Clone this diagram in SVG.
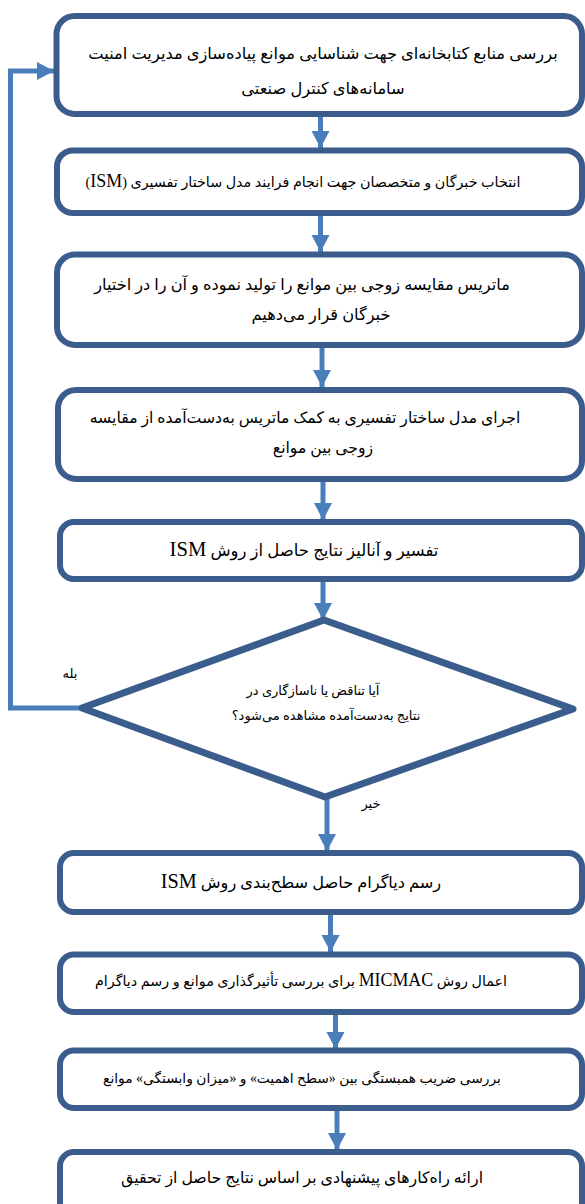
<svg xmlns="http://www.w3.org/2000/svg" width="585" height="1204" viewBox="0 0 585 1204">
<style>
.box{fill:#fff;stroke:#3b5d8d;stroke-width:6}
.dia{fill:#fff;stroke:#3b5d8d;stroke-width:7;stroke-linejoin:round}
.con{fill:none;stroke:#4a7ebb;stroke-width:5}
text{font-family:"Liberation Serif","DejaVu Sans",serif;fill:#000;text-anchor:middle;direction:rtl}
.lat{font-size:1.25em}
</style>
<defs>
<marker id="ah" markerUnits="userSpaceOnUse" markerWidth="18" markerHeight="20" viewBox="0 0 18 20" refX="17" refY="10" orient="auto">
<path d="M0,1 L17,10 L0,19 Z" fill="#4a7ebb"/>
</marker>
</defs>
<rect width="585" height="1204" fill="#fff"/>
<g id="connectors">
<path class="con" d="M320.5,117 V148" marker-end="url(#ah)"/>
<path class="con" d="M320.5,216 V252" marker-end="url(#ah)"/>
<path class="con" d="M322,348 V387" marker-end="url(#ah)"/>
<path class="con" d="M323,482 V520" marker-end="url(#ah)"/>
<path class="con" d="M323,582 V620" marker-end="url(#ah)"/>
<path class="con" d="M327,797 V851" marker-end="url(#ah)"/>
<path class="con" d="M330.5,915 V952" marker-end="url(#ah)"/>
<path class="con" d="M335.5,1015 V1049" marker-end="url(#ah)"/>
<path class="con" d="M337,1111 V1150" marker-end="url(#ah)"/>
<path class="con" d="M84,708 H10.5 V71 H54" marker-end="url(#ah)"/>
</g>
<g id="n1"><rect class="box" x="56.5" y="16" width="525.5" height="98" rx="18"/>
<text font-size="16.3" x="323" y="59">بررسی منابع کتابخانه‌ای جهت شناسایی موانع پیاده‌سازی مدیریت امنیت</text>
<text font-size="16.3" x="323" y="94">سامانه‌های کنترل صنعتی</text></g>
<g id="n2"><rect class="box" x="57" y="150.5" width="525" height="62.5" rx="16"/>
<text font-size="14.3" x="303" y="187">انتخاب خبرگان و متخصصان جهت انجام فرایند مدل ساختار تفسیری (<tspan class="lat">ISM</tspan>)</text></g>
<g id="n3"><rect class="box" x="57" y="254.5" width="525" height="90.5" rx="18"/>
<text font-size="16.2" x="302" y="290">ماتریس مقایسه زوجی بین موانع را تولید نموده و آن را در اختیار</text>
<text font-size="16.2" x="321" y="320">خبرگان قرار می‌دهیم</text></g>
<g id="n4"><rect class="box" x="58" y="390" width="524" height="89" rx="18"/>
<text font-size="15.7" x="305" y="423">اجرای مدل ساختار تفسیری به کمک ماتریس به‌دست‌آمده از مقایسه</text>
<text font-size="15.7" x="323" y="453">زوجی بین موانع</text></g>
<g id="n5"><rect class="box" x="60" y="522" width="522" height="57" rx="14"/>
<text font-size="16.5" x="304" y="556">تفسیر و آنالیز نتایج حاصل از روش <tspan class="lat">ISM</tspan></text></g>
<g id="n6"><polygon class="dia" points="324,620 573,709 325,797 82,708"/>
<text font-size="13" x="313" y="695">آیا تناقض یا ناسازگاری در</text>
<text font-size="13" x="326" y="720">نتایج به‌دست‌آمده مشاهده می‌شود؟</text></g>
<text font-size="13" x="70" y="678">بله</text>
<text font-size="13" x="371" y="808">خیر</text>
<g id="n7"><rect class="box" x="60" y="853" width="522" height="59" rx="14"/>
<text font-size="16.2" x="301" y="888">رسم دیاگرام حاصل سطح‌بندی روش <tspan class="lat">ISM</tspan></text></g>
<g id="n8"><rect class="box" x="60" y="954.5" width="522" height="57.5" rx="14"/>
<text font-size="14.3" x="301" y="986">اعمال روش <tspan class="lat">MICMAC</tspan> برای بررسی تأثیرگذاری موانع و رسم دیاگرام</text></g>
<g id="n9"><rect class="box" x="60" y="1050.5" width="522" height="57.5" rx="14"/>
<text font-size="13.8" x="302" y="1083">بررسی ضریب همبستگی بین «سطح اهمیت» و «میزان وابستگی» موانع</text></g>
<g id="n10"><rect class="box" x="60" y="1152" width="522" height="80" rx="14"/>
<text font-size="15.8" x="302" y="1183">ارائه راه‌کارهای پیشنهادی بر اساس نتایج حاصل از تحقیق</text></g>
</svg>
